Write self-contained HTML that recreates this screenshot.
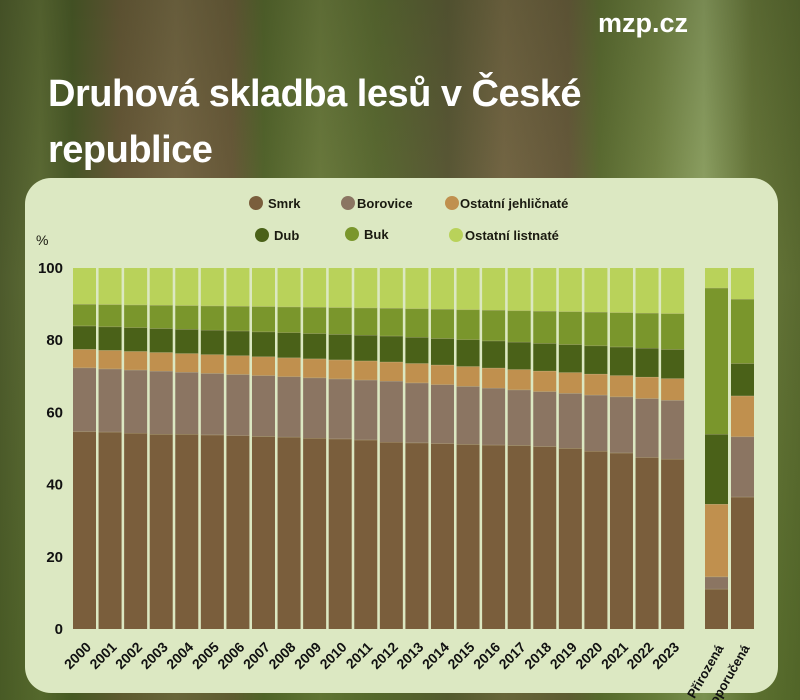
<!DOCTYPE html>
<html><head><meta charset="utf-8"><style>
html,body{margin:0;padding:0;}
body{width:800px;height:700px;overflow:hidden;position:relative;font-family:"Liberation Sans",sans-serif;
background:linear-gradient(90deg,#4d5a2c 0%,#5f6e36 5%,#4a5a28 9%,#6b5a3a 15%,#7b6a48 22%,#6d5c3c 29%,#56682e 33%,#6f7f40 40%,#5e6e34 47%,#5d5a38 56%,#7a6a48 63%,#6b5c3e 71%,#5f7034 75%,#788a48 82%,#94a868 88%,#6a7a3c 94%,#5a6a30 100%);}
.shade{position:absolute;left:0;top:0;width:800px;height:700px;background:linear-gradient(180deg,rgba(40,50,20,0.25) 0%,rgba(0,0,0,0) 40%,rgba(60,90,20,0.3) 100%);}
.t{position:absolute;color:#fff;font-weight:bold;}
svg{position:absolute;left:0;top:0;}
</style></head><body>
<div class="shade"></div>
<div class="t" style="left:598px;top:8px;font-size:27px;">mzp.cz</div>
<div class="t" style="left:48px;top:66px;font-size:38px;line-height:56px;letter-spacing:-0.5px;">Druhová skladba lesů v České<br>republice</div>
<svg width="800" height="700" id="s" xmlns="http://www.w3.org/2000/svg">
<rect x="25" y="178" width="753" height="515" rx="26" fill="#dce8c2"/>
<g font-family="Liberation Sans, sans-serif" font-weight="bold" font-size="13" fill="#1a1a10">
<circle cx="256" cy="203" r="7" fill="#7a5e3c"/><text x="268" y="208">Smrk</text>
<circle cx="348" cy="203" r="7" fill="#8b7562"/><text x="357" y="208">Borovice</text>
<circle cx="452" cy="203" r="7" fill="#c0904e"/><text x="460" y="208">Ostatní jehličnaté</text>
<circle cx="262" cy="235" r="7" fill="#4a6118"/><text x="274" y="240">Dub</text>
<circle cx="352" cy="234" r="7" fill="#7a962c"/><text x="364" y="239">Buk</text>
<circle cx="456" cy="235" r="7" fill="#b9d25a"/><text x="465" y="240">Ostatní listnaté</text>
<text x="36" y="245" font-size="14" font-weight="normal">%</text>
</g>
<g id="ax" font-family="Liberation Sans, sans-serif" font-weight="bold" font-size="15" fill="#111" text-anchor="end"></g>
<g id="bars"></g>
<g id="xl" font-family="Liberation Sans, sans-serif" font-weight="bold" font-size="14" fill="#111" text-anchor="end"></g>
</svg>
<script>
var NS="http://www.w3.org/2000/svg";
function el(p,n,a,t){var e=document.createElementNS(NS,n);for(var k in a)e.setAttribute(k,a[k]);if(t)e.textContent=t;p.appendChild(e);return e;}
var y0=629,k=3.61;
var ax=document.getElementById('ax');
[0,20,40,60,80,100].forEach(function(v){el(ax,'text',{x:63,y:y0-v*k+5},String(v));});
var cols=["#7a5e3c","#8b7562","#c0904e","#4a6118","#7a962c","#b9d25a"];
function lerp(a,b,t){return a+(b-a)*t;}
var A=[54.7,72.4,77.5,84,90],M=[51.8,68.7,74,81.2,88.9],Z=[47.1,63.4,69.4,77.5,87.4];
var smrk=[54.7,54.6,54.3,54.0,54.0,53.8,53.6,53.4,53.2,52.9,52.7,52.4,51.8,51.6,51.4,51.2,51.0,50.9,50.6,50.1,49.3,48.8,47.6,47.1];
var bars=document.getElementById('bars'),xl=document.getElementById('xl');
function bar(x,tops){var prev=0;var all=tops.concat([100]);for(var i=0;i<6;i++){var top=all[i];el(bars,'rect',{x:x,y:y0-top*k,width:23,height:(top-prev)*k,fill:cols[i]});
 if(i<5)el(bars,'rect',{x:x,y:y0-top*k-0.5,width:23,height:1,fill:"#c9c29a",opacity:0.6});prev=top;}}
for(var i=0;i<24;i++){
 var t=i<=12?i/12:(i-12)/11;var a=i<=12?A:M,b=i<=12?M:Z;
 var tops=a.map(function(v,j){return lerp(v,b[j],t);});tops[0]=smrk[i];
 var x=73+i*25.57;bar(x,tops);
 var cx=x+19,cy=648;
 el(xl,'text',{x:cx,y:cy,transform:'rotate(-45 '+cx+' '+cy+')'},String(2000+i));
}
bar(705,[11.1,14.5,34.6,54,94.5]);
bar(731,[36.6,53.3,64.6,73.6,91.4]);
el(xl,'text',{x:724,y:648,transform:'rotate(-60 724 648)','font-size':13},'Přirozená');
el(xl,'text',{x:750,y:648,transform:'rotate(-60 750 648)','font-size':13},'Doporučená');
</script>
</body></html>
